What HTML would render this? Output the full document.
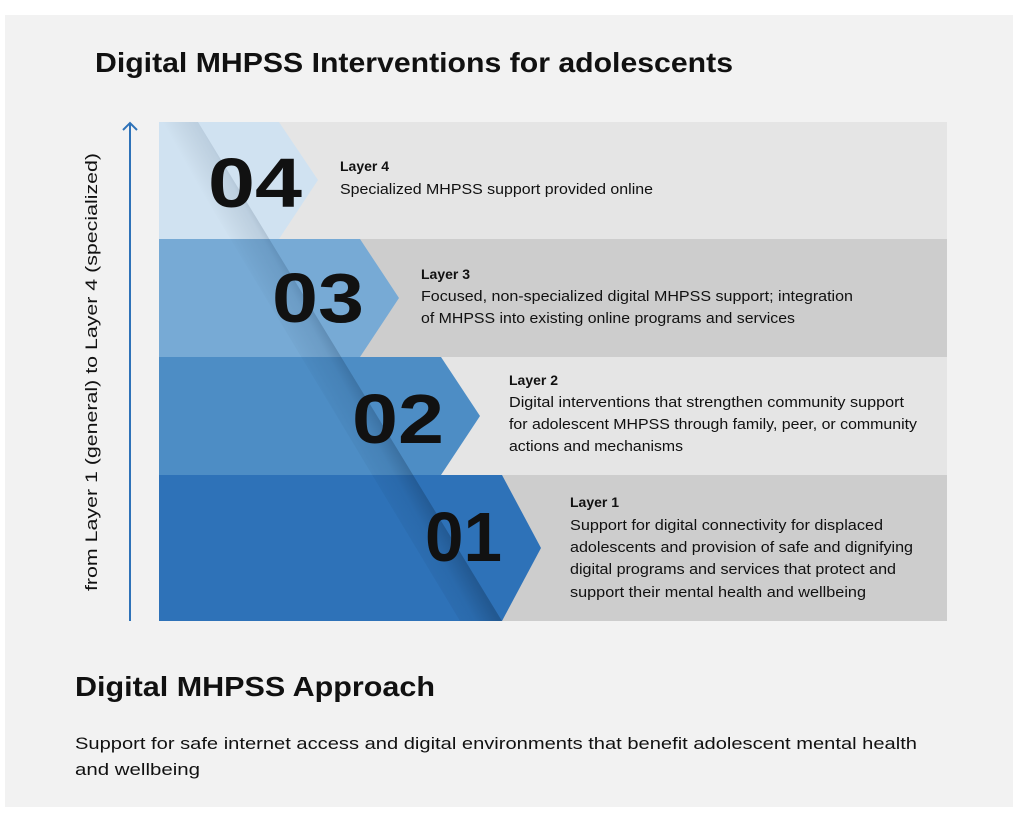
<!DOCTYPE html>
<html><head><meta charset="utf-8"><style>
html,body{margin:0;padding:0;background:#fff;}
svg{display:block;font-family:"Liberation Sans",sans-serif;}
</style></head><body>
<svg width="1018" height="814" viewBox="0 0 1018 814">
<defs>
<linearGradient id="fold" gradientUnits="userSpaceOnUse" x1="300" y1="370" x2="345" y2="345">
<stop offset="0" stop-color="#000" stop-opacity="0"/>
<stop offset="0.6" stop-color="#0a2340" stop-opacity="0.1"/>
<stop offset="1" stop-color="#0a2340" stop-opacity="0.32"/>
</linearGradient>
</defs>
<rect x="5" y="15" width="1008" height="792" fill="#f2f2f2"/>
<text x="95" y="72" font-size="28" font-weight="bold" fill="#111" textLength="638" lengthAdjust="spacingAndGlyphs">Digital MHPSS Interventions for adolescents</text>
<rect x="159" y="122" width="788" height="117" fill="#e5e5e5"/>
<rect x="159" y="239" width="788" height="118" fill="#cdcdcd"/>
<rect x="159" y="357" width="788" height="118" fill="#e5e5e5"/>
<rect x="159" y="475" width="788" height="146" fill="#cdcdcd"/>
<polygon points="159,122 279,122 318,180 279,239 159,239" fill="#d0e2f1"/>
<polygon points="159,239 360,239 399,298 360,357 159,357" fill="#77aad5"/>
<polygon points="159,357 441,357 480,416 441,475 159,475" fill="#4d8dc5"/>
<polygon points="159,475 502,475 541,548 502,621 159,621" fill="#2e72b8"/>
<polygon points="160,122 198,122 502,621 460,621" fill="url(#fold)"/>
<g font-size="70" font-weight="bold" fill="#111">
<text x="208" y="207" textLength="94" lengthAdjust="spacingAndGlyphs">04</text>
<text x="272" y="322" textLength="92" lengthAdjust="spacingAndGlyphs">03</text>
<text x="352" y="443" textLength="92" lengthAdjust="spacingAndGlyphs">02</text>
<text x="425" y="561" textLength="77" lengthAdjust="spacingAndGlyphs">01</text>
</g>
<g font-size="14.5" fill="#111">
<text x="340" y="171" font-weight="bold" font-size="14">Layer 4</text>
<text x="340" y="194" textLength="313" lengthAdjust="spacingAndGlyphs">Specialized MHPSS support provided online</text>
<text x="421" y="279" font-weight="bold" font-size="14">Layer 3</text>
<text x="421" y="301" textLength="432" lengthAdjust="spacingAndGlyphs">Focused, non-specialized digital MHPSS support;  integration</text>
<text x="421" y="323" textLength="374" lengthAdjust="spacingAndGlyphs">of MHPSS into existing online programs and services</text>
<text x="509" y="385" font-weight="bold" font-size="14">Layer 2</text>
<text x="509" y="407" textLength="395" lengthAdjust="spacingAndGlyphs">Digital interventions that strengthen community support</text>
<text x="509" y="429" textLength="408" lengthAdjust="spacingAndGlyphs">for adolescent MHPSS through family, peer, or community</text>
<text x="509" y="451" textLength="174" lengthAdjust="spacingAndGlyphs">actions and mechanisms</text>
<text x="570" y="507" font-weight="bold" font-size="14">Layer 1</text>
<text x="570" y="530" textLength="313" lengthAdjust="spacingAndGlyphs">Support for digital connectivity for displaced</text>
<text x="570" y="552" textLength="343" lengthAdjust="spacingAndGlyphs">adolescents and provision of safe and dignifying</text>
<text x="570" y="574" textLength="326" lengthAdjust="spacingAndGlyphs">digital programs and services that protect and</text>
<text x="570" y="597" textLength="296" lengthAdjust="spacingAndGlyphs">support their mental health and wellbeing</text>
</g>
<line x1="130" y1="123" x2="130" y2="621" stroke="#2e72b8" stroke-width="2"/>
<polyline points="123,130 130,123 137,130" fill="none" stroke="#2e72b8" stroke-width="2"/>
<text transform="translate(97,372) rotate(-90)" text-anchor="middle" font-size="17" fill="#111" textLength="438" lengthAdjust="spacingAndGlyphs">from Layer 1 (general) to Layer 4 (specialized)</text>
<text x="75" y="696" font-size="28" font-weight="bold" fill="#111" textLength="360" lengthAdjust="spacingAndGlyphs">Digital MHPSS Approach</text>
<text x="75" y="749" font-size="17" fill="#111" textLength="842" lengthAdjust="spacingAndGlyphs">Support for safe internet access and digital environments that benefit adolescent mental health</text>
<text x="75" y="775" font-size="17" fill="#111" textLength="125" lengthAdjust="spacingAndGlyphs">and wellbeing</text>
</svg>
</body></html>
